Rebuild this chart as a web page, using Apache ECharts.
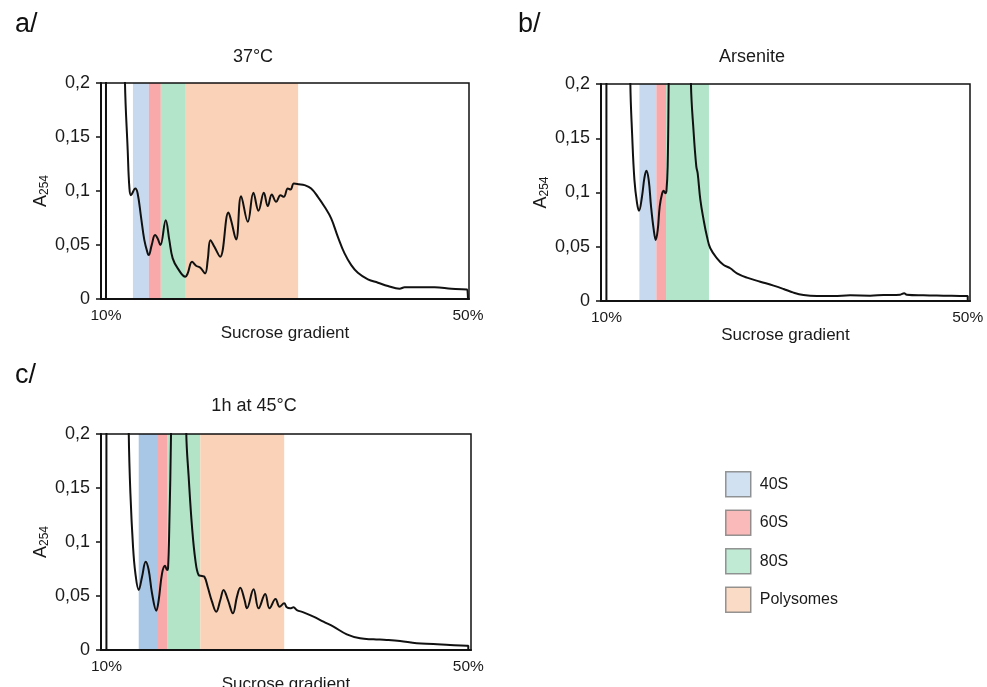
<!DOCTYPE html>
<html><head><meta charset="utf-8">
<script src="https://cdn.jsdelivr.net/npm/echarts@6/dist/echarts.min.js"></script>
<style>html,body{margin:0;padding:0;background:#fff}#c{width:987px;height:687px}</style>
</head><body><div id="c"></div>
<script>
// ---- Data ----
const yTicks = [0, 0.05, 0.1, 0.15, 0.2];
const xTickLabels = [10, 50]; // % sucrose
const bandNames = ['40S', '60S', '80S', 'Polysomes'];
// band limits [from, to] in % sucrose
const bandsA = [[12.98, 14.74], [14.74, 16.06], [16.06, 18.82], [18.82, 31.23]];
const bandsB = [[13.65, 15.53], [15.53, 16.60], [16.60, 21.35]];
const bandsC = [[13.57, 15.59], [15.59, 16.77], [16.77, 20.38], [20.38, 29.65]];

const curveA = [
 [10.0,0],[10.0,0.35],[11.9,0.35],[12.10,0.200],[12.40,0.1378],[12.58,0.1039],[12.76,0.0961],[13.24,0.1023],
 [13.50,0.0977],[13.87,0.0761],[14.24,0.0545],[14.61,0.0422],[14.72,0.0407],[15.05,0.0499],[15.42,0.0592],
 [15.71,0.0561],[16.01,0.0499],[16.60,0.0730],[17.00,0.0545],[17.37,0.0376],[17.93,0.0284],[18.77,0.0206],
 [19.03,0.0237],[19.51,0.0345],[19.95,0.0308],[20.43,0.0290],[20.95,0.0237],[21.24,0.0361],[21.54,0.0545],
 [21.98,0.0484],[22.61,0.0391],[23.53,0.0801],[23.82,0.0730],[24.38,0.0552],[24.93,0.0952],[25.67,0.0715],
 [26.29,0.0983],[26.85,0.0817],[27.44,0.0983],[27.88,0.0860],[28.32,0.0968],[28.80,0.0900],[29.28,0.0961],
 [29.65,0.0946],[30.09,0.1023],[30.39,0.1014],[30.76,0.1069],[31.31,0.1063],[31.94,0.1054],[32.67,0.1023],
 [33.41,0.0946],[34.15,0.0854],[34.88,0.0746],[35.62,0.0576],[36.36,0.0422],[37.10,0.0314],[37.83,0.0243],
 [38.94,0.0182],[40.05,0.0151],[41.15,0.0120],[42.44,0.0096],[43.00,0.0108],[44.47,0.0108],[46.31,0.0108],
 [48.16,0.0096],[49.93,0.0089],[50.0,0.0089],[50.0,0]
];
const curveB = [
 [10.0,0],[10.0,0.35],[12.5,0.35],[12.65,0.200],[12.84,0.1548],[13.10,0.1117],[13.39,0.0902],[13.61,0.0831],
 [13.94,0.0963],[14.20,0.1132],[14.42,0.1200],[14.68,0.1117],[14.94,0.0871],[15.24,0.0655],[15.46,0.0563],
 [15.68,0.0655],[15.90,0.0871],[16.16,0.0988],[16.34,0.1015],[16.53,0.0994],[16.64,0.1009],[16.78,0.1240],
 [16.89,0.200],[17.1,0.40],[19.1,0.40],[19.36,0.200],[19.66,0.1548],[19.95,0.1240],[20.10,0.1178],[20.40,0.0932],
 [20.76,0.0748],[21.13,0.0594],[21.50,0.0486],[22.24,0.0394],[22.98,0.0332],[23.71,0.0302],[24.45,0.0255],
 [25.56,0.0215],[27.03,0.0178],[28.51,0.0142],[29.61,0.0111],[30.72,0.0077],[31.82,0.0055],[33.30,0.0046],
 [35.14,0.0046],[36.99,0.0052],[39.20,0.0049],[40.67,0.0055],[42.52,0.0058],[42.96,0.0071],[43.25,0.0058],
 [45.10,0.0052],[47.31,0.0049],[49.89,0.0046],[50.0,0.0046],[50.0,0]
];
const curveC = [
 [10.0,0],[10.0,0.35],[12.3,0.35],[12.47,0.200],[12.65,0.1451],[12.94,0.0957],[13.20,0.0710],[13.57,0.0556],
 [13.94,0.0679],[14.34,0.0818],[14.67,0.0741],[15.04,0.0525],[15.52,0.0364],[15.78,0.0463],[16.15,0.0710],
 [16.48,0.0781],[16.70,0.0741],[16.81,0.0756],[16.95,0.1142],[17.14,0.200],[17.4,0.40],[18.6,0.40],
 [18.83,0.200],[19.09,0.1605],[19.46,0.1142],[19.83,0.0833],[20.19,0.0694],[20.56,0.0685],[20.82,0.0679],
 [21.19,0.0586],[21.67,0.0448],[22.14,0.0355],[22.59,0.0463],[22.95,0.0556],[23.43,0.0463],[23.98,0.0340],
 [24.43,0.0494],[24.79,0.0577],[25.27,0.0463],[25.53,0.0386],[26.26,0.0562],[26.82,0.0386],[27.55,0.0519],
 [28.03,0.0386],[28.69,0.0472],[29.14,0.0401],[29.65,0.0432],[29.94,0.0395],[30.31,0.0386],[30.68,0.0395],
 [31.05,0.0370],[31.78,0.0349],[32.89,0.0309],[33.99,0.0262],[35.10,0.0216],[36.57,0.0145],[38.04,0.0108],
 [39.51,0.0099],[40.98,0.0093],[42.46,0.0083],[44.30,0.0062],[46.14,0.0056],[47.98,0.0046],[49.82,0.0040],
 [50.0,0.0040],[50.0,0]
];

// ---- Styles ----
const bandColors = {'40S': '#c7d9ef', '60S': '#f9a9a9', '80S': '#b2e5c9', 'Polysomes': '#f9d2b7'};
const bandColorsC = {'40S': '#a8c6e6', '60S': '#f9a9a9', '80S': '#b3e4c8', 'Polysomes': '#f9d2b7'};
const FONT = 'Liberation Sans, Arial, sans-serif';
const TXT = '#1a1a1a';

const panels = [
  {grid: {left: 101, top: 83, width: 368, height: 216}, min: 9.45, max: 50.11, bands: bandsA, curve: curveA, colors: bandColors},
  {grid: {left: 601, top: 84, width: 369, height: 217}, min: 9.4, max: 50.25, bands: bandsB, curve: curveB, colors: bandColors},
  {grid: {left: 101, top: 434, width: 370, height: 216}, min: 9.4, max: 50.3, bands: bandsC, curve: curveC, colors: bandColorsC}
];

const grids = [], xAxes = [], yAxes = [], series = [];
panels.forEach((p, i) => {
  grids.push(Object.assign({show: true, borderColor: '#111', borderWidth: 1.5, backgroundColor: 'transparent', z: 10,
    containLabel: false, outerBoundsMode: 'none'}, p.grid));
  xAxes.push({
    type: 'value', gridIndex: i, min: p.min, max: p.max,
    name: 'Sucrose gradient', nameLocation: 'middle', nameGap: 22,
    nameTextStyle: {fontFamily: FONT, fontSize: 17, color: TXT},
    axisLine: {show: true, onZero: false, lineStyle: {color: '#111', width: 2}},
    axisTick: {show: false},
    splitLine: {show: false},
    axisLabel: {customValues: xTickLabels, formatter: v => v + '%', margin: 9, fontFamily: FONT, fontSize: 15.5, color: TXT},
    z: 11
  });
  yAxes.push({
    type: 'value', gridIndex: i, min: 0, max: 0.2, interval: 0.05,
    name: '{a|A}{s|254}', nameLocation: 'middle', nameGap: 50, nameRotate: 90,
    nameTextStyle: {rich: {
      a: {fontFamily: FONT, fontSize: 18, color: TXT, lineHeight: 20},
      s: {fontFamily: FONT, fontSize: 12, color: TXT, lineHeight: 20, verticalAlign: 'bottom', padding: [7, 0, 0, 0]}
    }},
    axisLine: {show: true, lineStyle: {color: '#111', width: 2}},
    axisTick: {show: true, inside: false, length: 5, lineStyle: {color: '#111', width: 1.5}},
    splitLine: {show: false},
    axisLabel: {formatter: v => String(v).replace('.', ','), margin: 11, fontFamily: FONT, fontSize: 18, color: TXT},
    z: 11
  });
  p.bands.forEach((b, k) => {
    const name = bandNames[k];
    series.push({
      type: 'scatter', name: name, xAxisIndex: i, yAxisIndex: i, data: [], z: 1,
      itemStyle: {color: p.colors[name]},
      markArea: {silent: true, itemStyle: {color: p.colors[name], opacity: 1},
        data: [[{xAxis: b[0], yAxis: 0}, {xAxis: b[1], yAxis: 0.2}]]}
    });
  });
  series.push({
    type: 'line', xAxisIndex: i, yAxisIndex: i, data: p.curve, smooth: 0.4, showSymbol: false,
    clip: true, z: 5, lineStyle: {color: '#111', width: 2}
  });
});

const chart = echarts.init(document.getElementById('c'), null, {renderer: 'canvas'});
chart.setOption({
  animation: false,
  backgroundColor: '#fff',
  title: [
    {text: 'a/', left: 10, top: 6, textStyle: {fontFamily: FONT, fontSize: 27, fontWeight: 'normal', color: '#111'}},
    {text: 'b/', left: 513, top: 6, textStyle: {fontFamily: FONT, fontSize: 27, fontWeight: 'normal', color: '#111'}},
    {text: 'c/', left: 10, top: 357, textStyle: {fontFamily: FONT, fontSize: 27, fontWeight: 'normal', color: '#111'}},
    {text: '37°C', left: 248, top: 43, textAlign: 'center', textStyle: {fontFamily: FONT, fontSize: 18, fontWeight: 'normal', color: TXT}},
    {text: 'Arsenite', left: 747, top: 43, textAlign: 'center', textStyle: {fontFamily: FONT, fontSize: 18, fontWeight: 'normal', color: TXT}},
    {text: '1h at 45°C', left: 249, top: 392, textAlign: 'center', textStyle: {fontFamily: FONT, fontSize: 18, fontWeight: 'normal', color: TXT}}
  ],
  legend: {
    orient: 'vertical', left: 725, top: 471, itemWidth: 25, itemHeight: 25, itemGap: 12,
    icon: 'rect', selectedMode: false, padding: 0,
    data: bandNames.map(n => ({name: n, itemStyle: {color: bandColors[n], borderColor: '#7a7a7a', borderWidth: 1.5}})),
    textStyle: {fontFamily: FONT, fontSize: 16, color: TXT, padding: [0, 0, 0, 4]}
  },
  grid: grids, xAxis: xAxes, yAxis: yAxes, series: series
});
</script></body></html>
